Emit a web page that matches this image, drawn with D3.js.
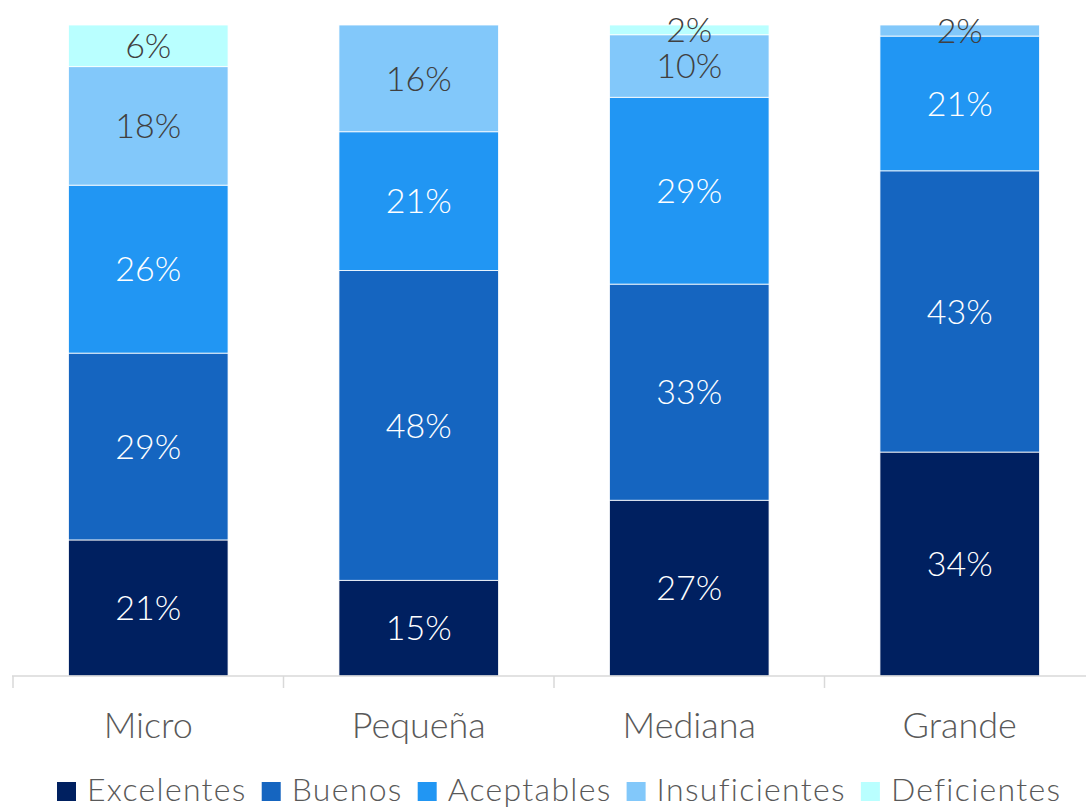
<!DOCTYPE html>
<html><head><meta charset="utf-8">
<script src="https://cdn.jsdelivr.net/npm/d3@7"></script>
<style>body{margin:0;background:#fff}svg{display:block}</style>
</head><body><svg id="c" width="1086" height="808"></svg>
<script>
const categories = ["Micro","Pequeña","Mediana","Grande"];
const seriesNames = ["Excelentes","Buenos","Aceptables","Insuficientes","Deficientes"];
const excelentes = [20.9, 14.7, 27, 34.4];
const buenos = [28.7, 47.6, 33.2, 43.2];
const aceptables = [25.8, 21.3, 28.7, 20.7];
const insuficientes = [18.2, 16.4, 9.6, 1.7];
const deficientes = [6.4, 0, 1.5, 0];
const colors = ["#002060","#1565C0","#2196F3","#82C8FA","#B9FFFF"];
const labelColors = ["#ffffff","#ffffff","#ffffff","#404040","#404040"];

const seriesVals = [excelentes, buenos, aceptables, insuficientes, deficientes];
const rows = categories.map((c,i)=>{const o={cat:c}; seriesNames.forEach((s,j)=>o[s]=seriesVals[j][i]); return o;});
const stack = d3.stack().keys(seriesNames)(rows);

const svg = d3.select("#c");
const font = "'Lato','Open Sans',sans-serif";
const x = d3.scaleBand().domain(categories).range([13,1095]).paddingInner(0.41).paddingOuter(0.205);
const y = d3.scaleLinear().domain([0,100]).range([676,25]);

const g = svg.append("g");
stack.forEach((s,j)=>{
  g.selectAll(null).data(s).enter().append("rect")
    .attr("x",d=>x(d.data.cat)).attr("width",x.bandwidth())
    .attr("y",d=>y(d[1])).attr("height",d=>Math.max(0,y(d[0])-y(d[1])))
    .attr("fill",colors[j]).attr("stroke","#fff").attr("stroke-width",0.8);
});
stack.forEach((s,j)=>{
  g.selectAll(null).data(s.filter(d=>d[1]-d[0]>0)).enter().append("text")
    .attr("x",d=>x(d.data.cat)+x.bandwidth()/2)
    .attr("y",d=>(y(d[0])+y(d[1]))/2)
    .attr("dy","0.36em").attr("text-anchor","middle")
    .attr("font-family",font).attr("font-weight",300).attr("font-size",34)
    .attr("fill",labelColors[j])
    .text(d=>Math.round(d[1]-d[0])+"%");
});

// axis
const ax = svg.append("g").attr("transform","translate(0,676)");
ax.append("line").attr("x1",12).attr("x2",1086).attr("stroke","#d9d9d9").attr("stroke-width",1.5);
const bounds = categories.map(c=>x(c)-x.step()*x.paddingInner()/2);
bounds.push(1095);
ax.selectAll(null).data(bounds).enter().append("line")
  .attr("x1",d=>d).attr("x2",d=>d).attr("y1",0).attr("y2",12)
  .attr("stroke","#d9d9d9").attr("stroke-width",1.5);
ax.selectAll(null).data(categories).enter().append("text")
  .attr("x",d=>x(d)+x.bandwidth()/2).attr("y",62)
  .attr("text-anchor","middle").attr("font-family",font).attr("font-weight",300)
  .attr("font-size",36).attr("fill","#595959").text(d=>d);

// legend
const leg = svg.append("g").attr("transform","translate(0,801)");
let lx = 57;
seriesNames.forEach((s,j)=>{
  leg.append("rect").attr("x",lx).attr("y",-19).attr("width",19).attr("height",19).attr("fill",colors[j]);
  const t = leg.append("text").attr("x",lx+30).attr("y",0).attr("font-family",font).attr("font-weight",300)
    .attr("font-size",32).attr("letter-spacing",1.3).attr("fill","#595959").text(s);
  lx += 30 + t.node().getComputedTextLength() + 15;
});
</script></body></html>
